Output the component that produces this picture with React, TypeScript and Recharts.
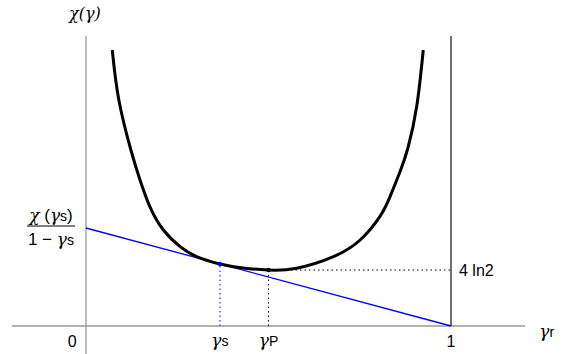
import React from 'react';
import { ComposedChart, Line, XAxis, YAxis, ReferenceLine, ReferenceDot } from 'recharts';

// chi(gamma) curve
const curveX = [0.072, 0.09, 0.123, 0.148, 0.175, 0.212, 0.258, 0.303, 0.367, 0.43, 0.499, 0.577, 0.678, 0.751, 0.805, 0.833, 0.86, 0.882, 0.906, 0.924];
const curveY = [13.8, 11.3, 8.8, 7.3, 5.97, 4.8, 3.97, 3.47, 3.1, 2.9, 2.8, 2.89, 3.47, 4.3, 5.47, 6.47, 7.7, 8.9, 10.97, 13.8];

// tangent line through gamma_s, from the intercept to (1, 0)
const tangentX = [0, 1];
const tangentY = [4.9, 0];

const gammaS = 0.367;
const chiS = 3.1;
const gammaP = 0.5;
const chiMin = 2.8; // 4 ln2

const curveData = curveX.map((x, i) => ({ x, y: curveY[i] }));
const tangentData = tangentX.map((x, i) => ({ x, t: tangentY[i] }));

const XMIN = -0.2356;
const XMAX = 1.3315;
const YMIN = -1.4;
const YMAX = 16.3;

const SERIF = '"DejaVu Serif", "Liberation Serif", serif';
const SANS = '"Liberation Sans", Arial, sans-serif';

const Gamma = ({ sub }: { sub: string }) => (
  <>
    <tspan fontFamily={SERIF} fontStyle="italic" fontSize={17}>γ</tspan>
    <tspan fontFamily={SANS} fontSize={14}>{sub}</tspan>
  </>
);

const App: React.FC = () => {
  return (
    <div style={{ position: 'absolute', left: 0, top: 0, width: 572, height: 354, background: '#fff' }}>
      <ComposedChart width={572} height={354} margin={{ top: 0, right: 0, bottom: 0, left: 0 }}>
        <XAxis type="number" dataKey="x" domain={[XMIN, XMAX]} allowDataOverflow hide />
        <YAxis type="number" domain={[YMIN, YMAX]} allowDataOverflow hide />

        {/* axes */}
        <ReferenceLine segment={[{ x: -0.203, y: 0 }, { x: 1.203, y: 0 }]} stroke="#999" strokeWidth={1.3} />
        <ReferenceLine segment={[{ x: 0, y: YMIN }, { x: 0, y: 14.5 }]} stroke="#999" strokeWidth={1.3} />
        <ReferenceLine segment={[{ x: 1, y: 0 }, { x: 1, y: 14.5 }]} stroke="#111" strokeWidth={1.2} />

        {/* dotted guides */}
        <ReferenceLine segment={[{ x: gammaS, y: 0 }, { x: gammaS, y: chiS }]} stroke="#0000ff" strokeDasharray="1.5 3" />
        <ReferenceLine segment={[{ x: gammaP, y: 0 }, { x: gammaP, y: chiMin }]} stroke="#000" strokeDasharray="1.5 3" />
        <ReferenceLine segment={[{ x: gammaP, y: chiMin }, { x: 1, y: chiMin }]} stroke="#000" strokeDasharray="1.5 3" />

        <Line data={tangentData} dataKey="t" type="linear" stroke="#0000ff" strokeWidth={1.3} dot={false} activeDot={false} isAnimationActive={false} />
        <Line data={curveData} dataKey="y" type="natural" stroke="#000" strokeWidth={3} dot={false} activeDot={false} isAnimationActive={false} />

        <ReferenceDot x={gammaS} y={chiS} r={2.2} fill="#0000ff" stroke="none" />
        <ReferenceDot x={gammaP} y={chiMin} r={2.2} fill="#000" stroke="none" />

        {/* labels */}
        <ReferenceDot x={-0.038} y={-0.75} shape={(p: any) => (
          <text x={p.cx} y={p.cy + 6} textAnchor="middle" fontFamily={SANS} fontSize={16}>0</text>
        )} />
        <ReferenceDot x={1} y={-0.75} shape={(p: any) => (
          <text x={p.cx} y={p.cy + 6} textAnchor="middle" fontFamily={SANS} fontSize={16}>1</text>
        )} />
        <ReferenceDot x={gammaS} y={-0.75} shape={(p: any) => (
          <text x={p.cx} y={p.cy + 5} textAnchor="middle"><Gamma sub="s" /></text>
        )} />
        <ReferenceDot x={gammaP} y={-0.75} shape={(p: any) => (
          <text x={p.cx} y={p.cy + 5} textAnchor="middle"><Gamma sub="P" /></text>
        )} />
        <ReferenceDot x={1.262} y={-0.3} shape={(p: any) => (
          <text x={p.cx} y={p.cy + 5} textAnchor="middle"><Gamma sub="r" /></text>
        )} />
        <ReferenceDot x={1.022} y={chiMin} shape={(p: any) => (
          <text x={p.cx} y={p.cy + 6} textAnchor="start" fontFamily={SANS} fontSize={16}>4 ln2</text>
        )} />
        <ReferenceDot x={-0.003} y={15.55} shape={(p: any) => (
          <text x={p.cx} y={p.cy + 4} textAnchor="middle" fontFamily={SERIF} fontStyle="italic" fontSize={16}>χ(γ)</text>
        )} />
        <ReferenceDot x={-0.096} y={tangentY[0]} shape={(p: any) => (
          <g>
            <text x={p.cx} y={p.cy - 7} textAnchor="middle" fontSize={17}>
              <tspan fontFamily={SERIF} fontStyle="italic" fontSize={17}>χ</tspan>
              <tspan fontFamily={SANS}> (</tspan>
              <Gamma sub="s" />
              <tspan fontFamily={SANS}>)</tspan>
            </text>
            <line x1={p.cx - 24} x2={p.cx + 24} y1={p.cy - 2} y2={p.cy - 2} stroke="#000" strokeWidth={1} />
            <text x={p.cx} y={p.cy + 17} textAnchor="middle" fontSize={17}>
              <tspan fontFamily={SANS}>1 − </tspan>
              <Gamma sub="s" />
            </text>
          </g>
        )} />
      </ComposedChart>
    </div>
  );
};

export default App;
